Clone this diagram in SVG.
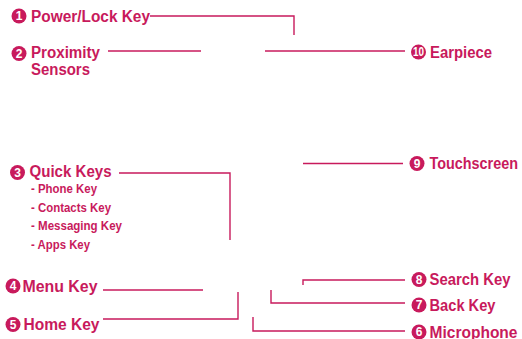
<svg xmlns="http://www.w3.org/2000/svg" width="522" height="339" viewBox="0 0 522 339">
<style>
.lbl{font-family:"Liberation Sans",Arial,sans-serif;font-weight:bold;font-size:16px;fill:#c81a5c}
.sub{font-family:"Liberation Sans",Arial,sans-serif;font-weight:bold;font-size:12.5px;fill:#c81a5c}
.num{font-family:"Liberation Sans",Arial,sans-serif;font-weight:bold;font-size:12px;fill:#fff;text-anchor:middle}
.dot{fill:#c81a5c}
.ln{fill:none;stroke:#c81a5c;stroke-width:1.4}
</style>
<rect width="522" height="339" fill="#fff"/>
<g id="connectors">
<polyline class="ln" points="150,16 294,16 294,35"/>
<line class="ln" x1="108" y1="51" x2="201" y2="51"/>
<line class="ln" x1="265" y1="51" x2="405" y2="51"/>
<polyline class="ln" points="119,173 230,173 230,240"/>
<line class="ln" x1="303" y1="163.5" x2="403" y2="163.5"/>
<line class="ln" x1="103" y1="290" x2="203" y2="290"/>
<polyline class="ln" points="103,319 238,319 238,292"/>
<polyline class="ln" points="303,285 303,280 405,280"/>
<polyline class="ln" points="271,290 271,303 405,303"/>
<polyline class="ln" points="253,317 253,331 405,331"/>
</g>
<g id="n1"><circle class="dot" cx="19" cy="16" r="7.5"/><text class="num" x="19" y="20.3">1</text><text class="lbl" x="31" y="22" textLength="119" lengthAdjust="spacingAndGlyphs">Power/Lock Key</text></g>
<g id="n2"><circle class="dot" cx="19" cy="53.5" r="7.5"/><text class="num" x="19" y="57.8">2</text><text class="lbl" x="31" y="57.5" textLength="69" lengthAdjust="spacingAndGlyphs">Proximity</text><text class="lbl" x="31" y="74.5" textLength="59" lengthAdjust="spacingAndGlyphs">Sensors</text></g>
<g id="n10"><circle class="dot" cx="418.5" cy="52" r="7.5"/><text class="num" x="418.5" y="56.3" textLength="11" lengthAdjust="spacingAndGlyphs">10</text><text class="lbl" x="430" y="57.5" textLength="62" lengthAdjust="spacingAndGlyphs">Earpiece</text></g>
<g id="n3"><circle class="dot" cx="17.5" cy="172.5" r="7.5"/><text class="num" x="17.5" y="176.8">3</text><text class="lbl" x="29.5" y="176.5" textLength="82" lengthAdjust="spacingAndGlyphs">Quick Keys</text>
<text class="sub" x="31" y="193" textLength="66" lengthAdjust="spacingAndGlyphs">- Phone Key</text>
<text class="sub" x="31" y="212" textLength="80" lengthAdjust="spacingAndGlyphs">- Contacts Key</text>
<text class="sub" x="31" y="230" textLength="91" lengthAdjust="spacingAndGlyphs">- Messaging Key</text>
<text class="sub" x="31" y="249" textLength="59" lengthAdjust="spacingAndGlyphs">- Apps Key</text></g>
<g id="n9"><circle class="dot" cx="417" cy="163.5" r="7.5"/><text class="num" x="417" y="167.8">9</text><text class="lbl" x="429.5" y="168.5" textLength="88.5" lengthAdjust="spacingAndGlyphs">Touchscreen</text></g>
<g id="n4"><circle class="dot" cx="13" cy="286" r="7.5"/><text class="num" x="13" y="290.3">4</text><text class="lbl" x="22.5" y="291.5" textLength="75" lengthAdjust="spacingAndGlyphs">Menu Key</text></g>
<g id="n5"><circle class="dot" cx="13" cy="324.5" r="7.5"/><text class="num" x="13" y="328.8">5</text><text class="lbl" x="23.5" y="329.5" textLength="76" lengthAdjust="spacingAndGlyphs">Home Key</text></g>
<g id="n8"><circle class="dot" cx="419" cy="279.5" r="7.5"/><text class="num" x="419" y="283.8">8</text><text class="lbl" x="429.5" y="284.5" textLength="81" lengthAdjust="spacingAndGlyphs">Search Key</text></g>
<g id="n7"><circle class="dot" cx="419" cy="305" r="7.5"/><text class="num" x="419" y="309.3">7</text><text class="lbl" x="429.5" y="310.5" textLength="66" lengthAdjust="spacingAndGlyphs">Back Key</text></g>
<g id="n6"><circle class="dot" cx="419" cy="332" r="7.5"/><text class="num" x="419" y="336.3">6</text><text class="lbl" x="429.5" y="337.5" textLength="88" lengthAdjust="spacingAndGlyphs">Microphone</text></g>
</svg>
